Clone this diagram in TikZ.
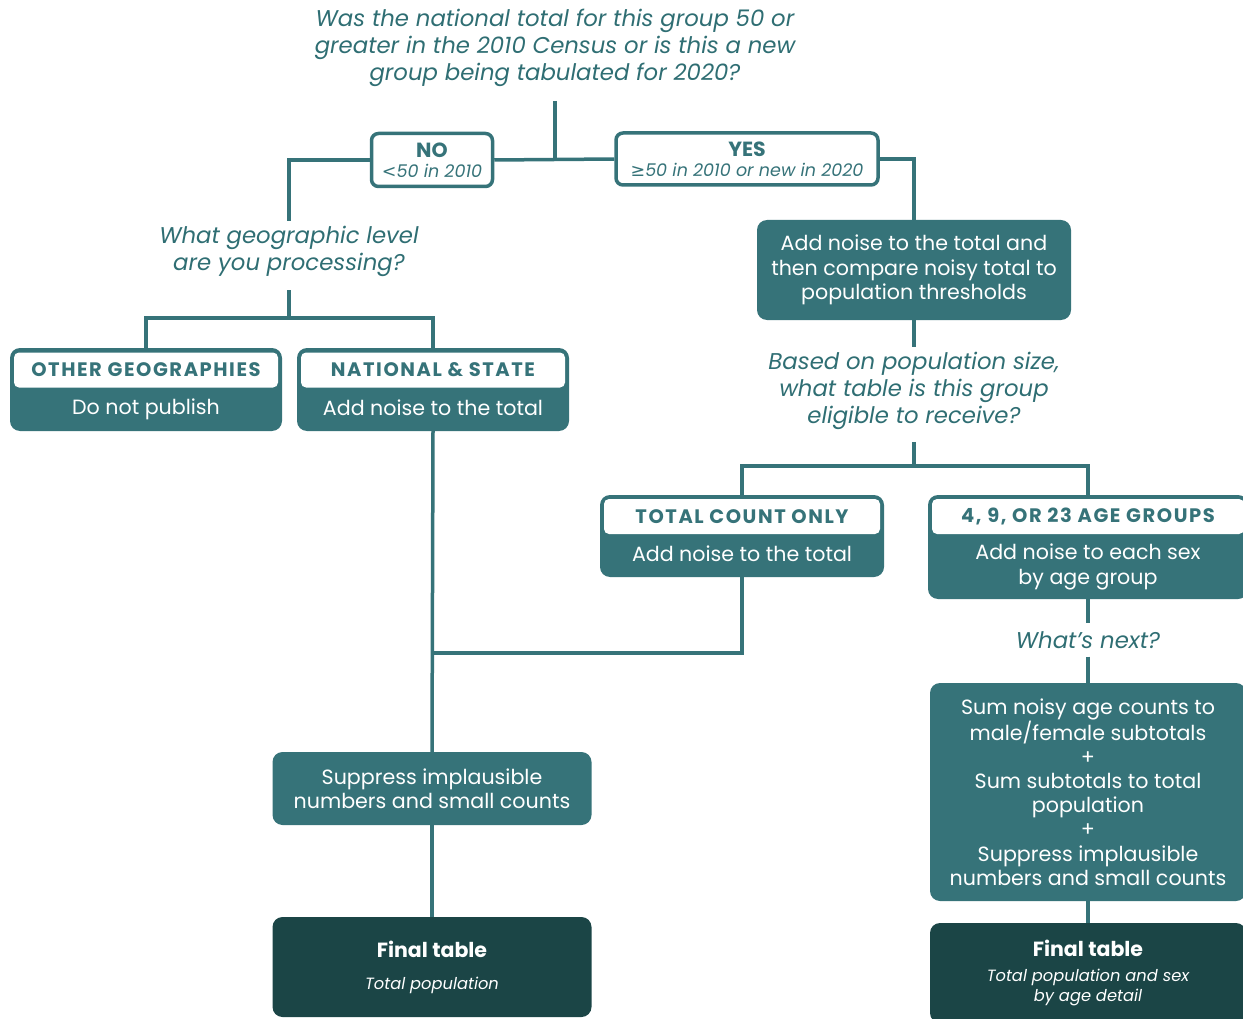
\documentclass[tikz,border=0pt]{standalone}
\usepackage{fontspec}
\setmainfont{Poppins}
\newfontfamily\symfont{DejaVu Sans}
\usetikzlibrary{positioning}

\definecolor{censteal}{RGB}{54,115,121}
\definecolor{censdark}{RGB}{27,69,70}
\definecolor{censtext}{RGB}{47,110,115}

\newcommand{\ftitle}{\bfseries\fontsize{20.5}{20}\selectfont}
\newcommand{\fsub}{\itshape\fontsize{16.3}{20}\selectfont}
\newcommand{\fsmall}{\itshape\fontsize{17.5}{20}\selectfont}

\tikzset{
	line/.style={draw=censteal, line width=3.5pt},
	question/.style={text=censtext, align=center, inner sep=2pt,
		font=\itshape\fontsize{22.8}{27}\selectfont},
	choice/.style={draw=censteal, fill=white, line width=3.5pt, rounded corners=7pt,
		align=center, text=censteal, inner sep=0pt, font=\fontsize{17.5}{20}\selectfont},
	stepbox/.style={fill=censteal, rounded corners=10pt, align=center, text=white,
		inner sep=0pt, font=\fontsize{20.6}{24.2}\selectfont},
	finalbox/.style={fill=censdark, rounded corners=10pt, align=center, text=white,
		inner sep=0pt, font=\fontsize{16.3}{20}\selectfont},
	cathead/.style={fill=white, rounded corners=5pt, inner sep=0pt, text=censteal,
		font=\bfseries\fontsize{19.5}{20}\selectfont\addfontfeature{LetterSpace=8}},
	cattext/.style={text=white, align=center, inner sep=0pt,
		font=\fontsize{20.6}{24.5}\selectfont},
}

\begin{document}
\begin{tikzpicture}[x=1pt, y=-1pt]
	\useasboundingbox (0,0) rectangle (1243,1019);
	
	% ----- Frage oben -----
	\node[question] (qtop) at (555,48)
		{Was the national total for this group 50 or\\greater in the 2010 Census or is this a new\\group being tabulated for 2020?};
	\coordinate (jtop) at (555,158);
	
	% Ja / Nein
	\node[choice, minimum width=121, minimum height=53] (no) at (432,160)
		{\ftitle NO\\\fsmall {\symfont\upshape <}50 in 2010};
	\node[choice, minimum width=262, minimum height=52] (yes) at (747,159)
		{\ftitle YES\\\fsmall {\symfont\upshape ≥}50 in 2010 or new in 2020};
	
	\draw[line] ([yshift=-12pt]qtop.south) -- (jtop);
	\draw[line] (no.east) -- (yes.west);
	
	% ----- Zweig links -----
	\node[question] (qgeo) at (289,251) {What geographic level\\are you processing?};
	\coordinate (jgeo) at (289,318);
	\draw[line] (no.west) -| ([yshift=3pt]qgeo.north);
	\draw[line] ([yshift=-12pt]qgeo.south) -- (jgeo);
	
	% Other geographies
	\node[stepbox, minimum width=272, minimum height=83] (og) at (146,389.5) {};
	\node[cathead, minimum width=264, minimum height=35] (oghead) at (146,370) {OTHER GEOGRAPHIES};
	\node[cattext] (ogtext) at (146,409) {Do not publish};
	
	% National & state
	\node[stepbox, minimum width=272, minimum height=83] (ns) at (433,389.5) {};
	\node[cathead, minimum width=264, minimum height=35] (nshead) at (433,370) {NATIONAL \& STATE};
	\node[cattext] (nstext) at (433,408) {Add noise to the total};
	
	\draw[line] (og.north) |- (jgeo) -| (ns.north);
	
	% ----- Zweig rechts -----
	\node[stepbox, minimum width=314, minimum height=100] (noise) at (914,270)
		{Add noise to the total and\\then compare noisy total to\\population thresholds};
	\draw[line] (yes.east) -| (noise.north);
	
	\node[question] (qsize) at (914,391)
		{Based on population size,\\what table is this group\\eligible to receive?};
	\coordinate (jsize) at (914,466);
	\draw[line] (noise.south) -- ([yshift=3pt]qsize.north);
	\draw[line] ([yshift=-10pt]qsize.south) -- (jsize);
	
	% Total count only
	\node[stepbox, minimum width=284, minimum height=82] (tc) at (742,536) {};
	\node[cathead, minimum width=276, minimum height=35] (tchead) at (742,516.5) {TOTAL COUNT ONLY};
	\node[cattext] (tctext) at (742,554) {Add noise to the total};
	
	% Age groups
	\node[stepbox, minimum width=320, minimum height=104] (ag) at (1088,547) {};
	\node[cathead, minimum width=312, minimum height=35] (aghead) at (1088,516.5) {4, 9, OR 23 AGE GROUPS};
	\node[cattext] (agtext) at (1088,567) {Add noise to each sex\\by age group};
	
	\draw[line] (tc.north) |- (jsize) -| (ag.north);
	
	% ----- Unten links -----
	\node[stepbox, minimum width=319, minimum height=73] (supp) at (432,788.5)
		{Suppress implausible\\numbers and small counts};
	\node[finalbox, minimum width=319, minimum height=100] (finl) at (432,967)
		{\ftitle Final table\\[12pt]\fsub Total population};
	\coordinate (jleft) at (433,653);
	
	\draw[line] (ns.south) -- (supp.north);
	\draw[line] (tc.south) |- (jleft);
	\draw[line] (supp.south) -- (finl.north);
	
	% ----- Unten rechts -----
	\node[question] (qnext) at (1088,640) {What’s next?};
	\node[stepbox, minimum width=316, minimum height=218] (sum) at (1088,792)
		{Sum noisy age counts to\\male/female subtotals\\+\\Sum subtotals to total\\population\\+\\Suppress implausible\\numbers and small counts};
	\node[finalbox, minimum width=316, minimum height=100] (finr) at (1088,973)
		{\ftitle Final table\\[5pt]\fsub Total population and sex\\\fsub by age detail};
	
	\draw[line] (ag.south) -- ([yshift=6pt]qnext.north);
	\draw[line] ([yshift=-6pt]qnext.south) -- (sum.north);
	\draw[line] (sum.south) -- (finr.north);
	
\end{tikzpicture}
\end{document}
